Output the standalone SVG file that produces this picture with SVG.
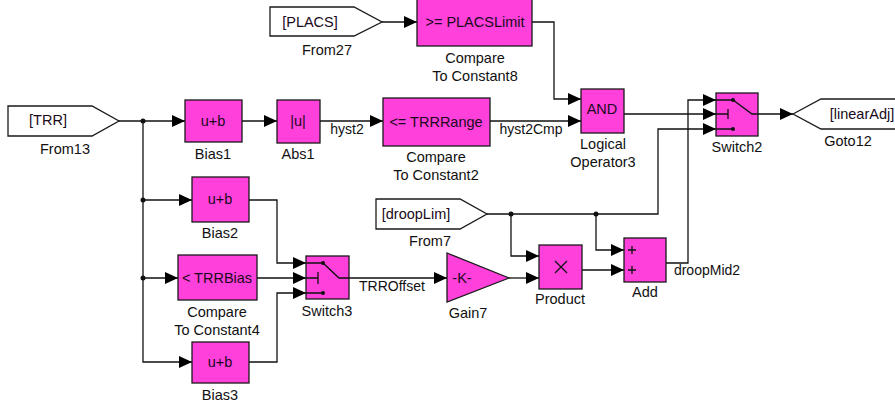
<svg xmlns="http://www.w3.org/2000/svg" width="895" height="404" viewBox="0 0 895 404">
<defs>
<style>
.blk{fill:#FF40DA;stroke:#1a1a1a;stroke-width:1.3}
.tag{fill:#ffffff;stroke:#1a1a1a;stroke-width:1.3}
.in{font-family:"Liberation Sans",Arial,sans-serif;font-size:14.5px;fill:#1a0a20;text-anchor:middle}
.lbl{font-family:"Liberation Sans",Arial,sans-serif;font-size:14.5px;fill:#111;text-anchor:middle}
.sig{font-family:"Liberation Sans",Arial,sans-serif;font-size:14px;fill:#111;text-anchor:middle}
.ln{fill:none;stroke:#111;stroke-width:1.3}
.sym{fill:none;stroke:#111;stroke-width:1.3}
.dot{fill:#111}
</style>
<marker id="arr" markerUnits="userSpaceOnUse" markerWidth="13" markerHeight="12" refX="13" refY="6" orient="auto">
<path d="M0,0 L13,6 L0,12 z" fill="#000"/>
</marker>
</defs>
<rect width="895" height="404" fill="#ffffff"/>

<g id="connectors">
<path class="ln" d="M119,121 H185" marker-end="url(#arr)"/>
<path class="ln" d="M143,121 V362 H192" marker-end="url(#arr)"/>
<path class="ln" d="M143,200 H192" marker-end="url(#arr)"/>
<path class="ln" d="M143,278 H178" marker-end="url(#arr)"/>
<circle class="dot" cx="143" cy="121" r="2.5"/>
<circle class="dot" cx="143" cy="200" r="2.5"/>
<circle class="dot" cx="143" cy="278" r="2.5"/>
<path class="ln" d="M242,121 H277" marker-end="url(#arr)"/>
<path class="ln" d="M320,121 H383" marker-end="url(#arr)"/>
<text class="sig" x="347" y="134">hyst2</text>
<path class="ln" d="M490,121 H581" marker-end="url(#arr)"/>
<text class="sig" x="531" y="134">hyst2Cmp</text>
<path class="ln" d="M382,22 H417" marker-end="url(#arr)"/>
<path class="ln" d="M532,22 H554 V99 H581" marker-end="url(#arr)"/>
<path class="ln" d="M624,114 H716" marker-end="url(#arr)"/>
<path class="ln" d="M758,114 H793" marker-end="url(#arr)"/>
<path class="ln" d="M487,214 H658 V129 H716" marker-end="url(#arr)"/>
<path class="ln" d="M511,214 V256 H539" marker-end="url(#arr)"/>
<path class="ln" d="M596,214 V250 H624" marker-end="url(#arr)"/>
<circle class="dot" cx="511" cy="214" r="2.5"/>
<circle class="dot" cx="596" cy="214" r="2.5"/>
<path class="ln" d="M666,263 H688 V100 H716" marker-end="url(#arr)"/>
<text class="sig" x="707" y="275">droopMid2</text>
<path class="ln" d="M249,200 H277 V263 H306" marker-end="url(#arr)"/>
<path class="ln" d="M257,278 H306" marker-end="url(#arr)"/>
<path class="ln" d="M249,362 H277 V293 H306" marker-end="url(#arr)"/>
<path class="ln" d="M349,278 H447" marker-end="url(#arr)"/>
<text class="sig" x="392" y="291">TRROffset</text>
<path class="ln" d="M509,278 H539" marker-end="url(#arr)"/>
<path class="ln" d="M582,270 H624" marker-end="url(#arr)"/>
</g>

<g id="From13">
<polygon class="tag" points="8,106 92,106 119,121 92,136 8,136"/>
<text class="in" x="48" y="125">[TRR]</text>
<text class="lbl" x="65" y="154">From13</text>
</g>

<g id="Bias1">
<rect class="blk" x="185" y="100" width="57" height="42"/>
<text class="in" x="213" y="126">u+b</text>
<text class="lbl" x="213" y="159">Bias1</text>
</g>

<g id="Abs1">
<rect class="blk" x="277" y="100" width="43" height="43"/>
<text class="in" x="298" y="126">|u|</text>
<text class="lbl" x="298" y="159">Abs1</text>
</g>

<g id="CompareToConstant2">
<rect class="blk" x="383" y="98" width="107" height="48"/>
<text class="in" x="436" y="127">&lt;= TRRRange</text>
<text class="lbl" x="436" y="162">Compare</text>
<text class="lbl" x="436" y="180">To Constant2</text>
</g>

<g id="From27">
<polygon class="tag" points="270,7 354,7 382,22 354,36 270,36"/>
<text class="in" x="310" y="27">[PLACS]</text>
<text class="lbl" x="327" y="55">From27</text>
</g>

<g id="CompareToConstant8">
<rect class="blk" x="417" y="-1" width="115" height="47"/>
<text class="in" x="475" y="27">&gt;= PLACSLimit</text>
<text class="lbl" x="475" y="63">Compare</text>
<text class="lbl" x="475" y="81">To Constant8</text>
</g>

<g id="LogicalOperator3">
<rect class="blk" x="581" y="89" width="43" height="44"/>
<text class="in" x="602" y="114">AND</text>
<text class="lbl" x="603" y="149">Logical</text>
<text class="lbl" x="603" y="167">Operator3</text>
</g>

<g id="Switch2">
<rect class="blk" x="716" y="93" width="42" height="43"/>
<path class="sym" d="M716,100 H733 L752,114 H758 M716,114 H728 M728,109 V119 M716,129 H733"/>
<circle class="dot" cx="733" cy="100" r="2"/>
<circle class="dot" cx="733" cy="129" r="2"/>
<text class="lbl" x="737" y="152">Switch2</text>
</g>

<g id="Goto12">
<polygon class="tag" points="793,114 821,99 906,99 906,129 821,129"/>
<text class="in" x="862" y="119">[linearAdj]</text>
<text class="lbl" x="848" y="146">Goto12</text>
</g>

<g id="Bias2">
<rect class="blk" x="192" y="177" width="57" height="45"/>
<text class="in" x="220" y="204">u+b</text>
<text class="lbl" x="220" y="238">Bias2</text>
</g>

<g id="CompareToConstant4">
<rect class="blk" x="178" y="255" width="79" height="45"/>
<text class="in" x="217" y="283">&lt; TRRBias</text>
<text class="lbl" x="217" y="317">Compare</text>
<text class="lbl" x="217" y="335">To Constant4</text>
</g>

<g id="Bias3">
<rect class="blk" x="192" y="342" width="57" height="41"/>
<text class="in" x="220" y="367">u+b</text>
<text class="lbl" x="220" y="400">Bias3</text>
</g>

<g id="Switch3">
<rect class="blk" x="306" y="256" width="43" height="43"/>
<path class="sym" d="M306,263 H323 L339,278 H349 M306,278 H318 M318,272 V284 M306,293 H323"/>
<circle class="dot" cx="323" cy="263" r="2"/>
<circle class="dot" cx="323" cy="293" r="2"/>
<text class="lbl" x="327" y="316">Switch3</text>
</g>

<g id="From7">
<polygon class="tag" points="376,199 460,199 487,214 460,229 376,229"/>
<text class="in" x="416" y="219">[droopLim]</text>
<text class="lbl" x="430" y="246">From7</text>
</g>

<g id="Gain7">
<polygon class="blk" points="447,253 509,278 447,302"/>
<text class="in" x="462" y="283">-K-</text>
<text class="lbl" x="468" y="318">Gain7</text>
</g>

<g id="Product">
<rect class="blk" x="539" y="245" width="43" height="44"/>
<path class="sym" d="M555,261 L567,273 M567,261 L555,273"/>
<text class="lbl" x="560" y="304">Product</text>
</g>

<g id="Add">
<rect class="blk" x="624" y="238" width="42" height="44"/>
<path class="sym" d="M628,250 H636 M632,246 V254 M628,270 H636 M632,266 V274"/>
<text class="lbl" x="645" y="297">Add</text>
</g>
</svg>
